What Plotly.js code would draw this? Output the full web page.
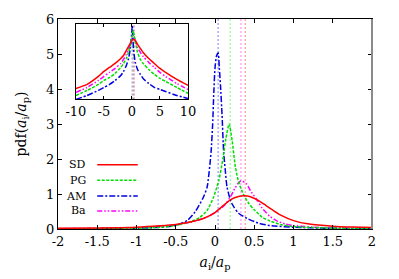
<!DOCTYPE html>
<html><head><meta charset="utf-8">
<script src="https://cdn.plot.ly/plotly-3.0.1.min.js"></script>
<style>body{margin:0;background:#fff}#c{width:399px;height:279px}</style>
</head><body><div id="c"></div>
<script>
// ---- main panel data ----
const sdX = [-2,-1.5,-1,-0.7,-0.5,-0.3,-0.15,0,0.1,0.2,0.3,0.38,0.45,0.55,0.65,0.75,0.85,1,1.2,1.5,1.75,2];
const sdY = [0.02,0.03,0.05,0.09,0.13,0.21,0.3,0.47,0.66,0.84,0.93,0.95,0.92,0.82,0.67,0.52,0.38,0.24,0.14,0.08,0.055,0.04];
const pgX = [-2,-1.5,-1,-0.7,-0.5,-0.3,-0.2,-0.1,-0.02,0.05,0.1,0.14,0.18,0.22,0.26,0.3,0.35,0.43,0.5,0.6,0.7,0.85,1,1.5,2];
const pgY = [0.005,0.01,0.02,0.05,0.1,0.22,0.32,0.53,0.9,1.4,2.0,2.6,3.0,2.5,1.77,1.35,1.05,0.73,0.55,0.34,0.23,0.12,0.07,0.025,0.01];
const amX = [-2,-1.5,-1,-0.7,-0.5,-0.35,-0.25,-0.15,-0.1,-0.05,-0.03,-0.015,0,0.02,0.04,0.055,0.07,0.09,0.11,0.13,0.153,0.2,0.24,0.3,0.41,0.55,0.7,1,1.5,2];
const amY = [0.005,0.01,0.02,0.05,0.1,0.25,0.5,0.9,1.2,2.2,3.0,3.9,4.6,4.95,5.03,4.6,4.1,3.25,2.2,1.7,1.2,0.8,0.63,0.45,0.3,0.17,0.1,0.05,0.02,0.01];
const baX = [-2,-1.5,-1,-0.7,-0.5,-0.3,-0.1,0,0.07,0.13,0.2,0.25,0.3,0.33,0.4,0.45,0.55,0.6,0.7,0.8,0.9,1,1.2,1.5,2];
const baY = [0.01,0.02,0.04,0.08,0.12,0.2,0.34,0.47,0.58,0.7,0.93,1.15,1.32,1.37,1.3,1.1,0.78,0.6,0.36,0.22,0.14,0.1,0.06,0.03,0.015];
// mean positions (vertical dotted lines)
const meanNames = ["AM","PG","Ba","SD"];
const meanVals = [0.04,0.195,0.33,0.386];
// ---- inset data (log y) ----
const sdXi = [-10,-8,-6,-5,-4,-3,-2,-1.5,-1,-0.6,-0.3,0,0.3,0.6,1,1.5,2,3,4,5,6,8,10];
const sdYi = [0.00355,0.00562,0.0141,0.0251,0.0398,0.0631,0.112,0.158,0.282,0.447,0.631,0.891,1.0,0.891,0.562,0.355,0.224,0.112,0.0631,0.0355,0.0224,0.01,0.00501];
const baXi = [-10,-8,-6,-5,-4,-3,-2,-1.5,-1,-0.6,-0.3,0,0.3,0.6,1,1.5,2,3,4,5,6,8,10];
const baYi = [0.00224,0.00398,0.00891,0.0141,0.0224,0.0355,0.0631,0.1,0.178,0.316,0.562,1.0,1.41,0.891,0.398,0.224,0.141,0.0708,0.0398,0.0224,0.0141,0.00631,0.00316];
const pgXi = [-10,-8,-6,-5,-4,-3,-2,-1.5,-1,-0.6,-0.3,0,0.2,0.5,1,1.5,2,3,4,5,6,8,10];
const pgYi = [0.00158,0.00282,0.00562,0.00891,0.0126,0.02,0.0398,0.0631,0.112,0.224,0.501,1.26,2.82,1.12,0.224,0.1,0.0631,0.0316,0.0178,0.0112,0.00794,0.00398,0.002];
const amXi = [-10,-8,-6,-5,-4,-3,-2,-1.5,-1,-0.6,-0.3,0,0.05,0.1,0.3,0.6,1,1.5,2,3,4,5,6,8,10];
const amYi = [0.001,0.00158,0.00282,0.00398,0.00562,0.00891,0.0158,0.0251,0.0501,0.112,0.355,2.82,5.01,2.82,0.282,0.0708,0.0316,0.0178,0.0112,0.00631,0.00398,0.00316,0.00251,0.00158,0.00112];
// ticks
const xTickVals = [-2,-1.5,-1,-0.5,0,0.5,1,1.5,2];
const xTickText = ["-2","-1.5","-1","-0.5","0","0.5","1","1.5","2"];
const yTickVals = [0,1,2,3,4,5,6];
const yTickText = ["0","1","2","3","4","5","6"];
const ixTickVals = [-10,-5,0,5,10];
const ixTickText = ["-10","-5","0","5","10"];
const legendNames = ["SD","PG","AM","Ba"];

const col = {SD:"#ff0000", PG:"#00e000", AM:"#0000e0", Ba:"#ff00ff"};
const light = {SD:"rgba(255,90,90,0.55)", PG:"rgba(90,255,90,0.6)", AM:"rgba(90,90,255,0.6)", Ba:"rgba(255,90,255,0.6)"};
const dash = {SD:"solid", PG:"3px,1.5px", AM:"6px,2px,2px,2px", Ba:"5px,2px,1.5px,2px,1.5px,2px"};
const W = 1.5;

const traces = [];
function curve(x,y,n,xa,ya){traces.push({x:x,y:y,name:n,mode:"lines",type:"scatter",xaxis:xa,yaxis:ya,line:{color:col[n],width:W,dash:dash[n],shape:"spline",smoothing:0.6},hoverinfo:"skip",showlegend:false});}
// vertical mean lines
meanNames.forEach((n,i)=>{
  traces.push({x:[meanVals[i],meanVals[i]],y:[0,6],mode:"lines",xaxis:"x",yaxis:"y",line:{color:light[n],width:1.3,dash:"2px,2px"},showlegend:false,hoverinfo:"skip"});
  traces.push({x:[meanVals[i],meanVals[i]],y:[0.001,10],mode:"lines",xaxis:"x2",yaxis:"y2",line:{color:light[n],width:1.3,dash:"2px,2px"},showlegend:false,hoverinfo:"skip"});
});
curve(baX,baY,"Ba","x","y");
curve(amX,amY,"AM","x","y");
curve(pgX,pgY,"PG","x","y");
curve(sdX,sdY,"SD","x","y");
curve(baXi,baYi,"Ba","x2","y2");
curve(amXi,amYi,"AM","x2","y2");
curve(pgXi,pgYi,"PG","x2","y2");
curve(sdXi,sdYi,"SD","x2","y2");

const font = {family:"'DejaVu Serif', 'Liberation Serif', serif", size:13, color:"#000"};
const legY = [0.306,0.232,0.157,0.086];
const annotations = [];
const shapes = [];
legendNames.forEach((n,i)=>{
  annotations.push({xref:"paper",yref:"paper",x:0.095,y:legY[i],xanchor:"right",yanchor:"middle",text:n,showarrow:false,font:{family:font.family,size:11,color:"#000"}});
  shapes.push({type:"line",xref:"paper",yref:"paper",x0:0.125,x1:0.254,y0:legY[i],y1:legY[i],line:{color:col[n],width:W,dash:dash[n]}});
});
// white background for inset
shapes.push({type:"rect",xref:"paper",yref:"paper",x0:0.057,x1:0.414,y0:0.617,y1:0.974,fillcolor:"#fff",line:{width:0},layer:"below"});
// greyish right border as in the reference
shapes.push({type:"line",xref:"paper",yref:"paper",x0:1,x1:1,y0:0,y1:1,line:{color:"#8a8a8a",width:2}});

const layout = {
  width:399,height:279,
  margin:{l:58,r:27,t:18.5,b:50.3},
  paper_bgcolor:"#fff",plot_bgcolor:"rgba(0,0,0,0)",
  font:font,showlegend:false,
  xaxis:{range:[-2,2],tickvals:xTickVals,ticktext:xTickText,ticks:"inside",ticklen:4,tickcolor:"#000",showline:true,linecolor:"#000",linewidth:1,mirror:"ticks",showgrid:false,zeroline:false,
    title:{text:"<i>a</i><sub>i</sub>/<i>a</i><sub>p</sub>",font:{family:font.family,size:14},standoff:9},tickfont:font},
  yaxis:{range:[0,6],tickvals:yTickVals,ticktext:yTickText,ticks:"inside",ticklen:4,tickcolor:"#000",showline:true,linecolor:"#000",linewidth:1,mirror:"ticks",showgrid:false,zeroline:false,
    title:{text:"pdf(<i>a</i><sub>i</sub>/<i>a</i><sub>p</sub>)",font:{family:font.family,size:14},standoff:16},tickfont:font},
  xaxis2:{domain:[0.057,0.414],anchor:"y2",range:[-10,10],tickvals:ixTickVals,ticktext:ixTickText,ticks:"inside",ticklen:3,tickcolor:"#000",showline:true,linecolor:"#000",linewidth:1,mirror:"ticks",showgrid:false,zeroline:false,tickfont:font},
  yaxis2:{domain:[0.617,0.974],anchor:"x2",type:"log",range:[-3,0.75],showticklabels:false,ticks:"",showline:true,linecolor:"#000",linewidth:1,mirror:true,showgrid:false,zeroline:false},
  annotations:annotations,shapes:shapes
};
Plotly.newPlot("c",traces,layout,{staticPlot:true});
</script></body></html>
